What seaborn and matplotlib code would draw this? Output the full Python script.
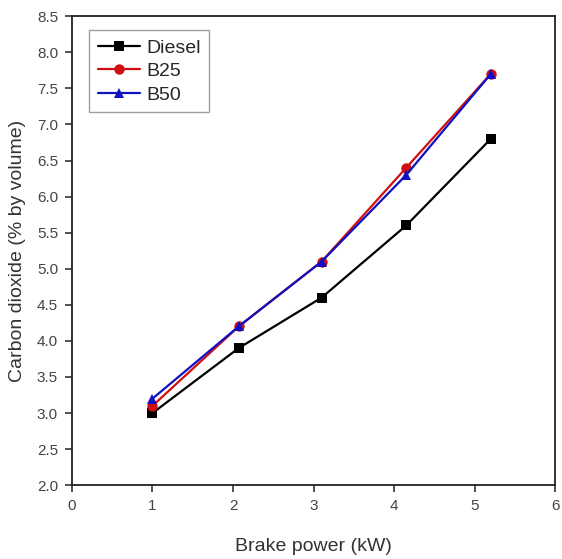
import matplotlib
matplotlib.use("Agg")
import matplotlib.pyplot as plt
import seaborn as sns
import pandas as pd

brake_power = [1.0, 2.07, 3.1, 4.15, 5.2]
diesel = [3.0, 3.9, 4.6, 5.6, 6.8]
b25 = [3.1, 4.2, 5.1, 6.4, 7.7]
b50 = [3.2, 4.2, 5.1, 6.3, 7.7]
series_names = ["Diesel", "B25", "B50"]
x_ticks = [0, 1, 2, 3, 4, 5, 6]
y_ticks = [2.0, 2.5, 3.0, 3.5, 4.0, 4.5, 5.0, 5.5, 6.0, 6.5, 7.0, 7.5, 8.0, 8.5]

df = pd.DataFrame({
    "x": brake_power * 3,
    "y": diesel + b25 + b50,
    "fuel": [n for n in series_names for _ in brake_power],
})

sns.set_style("ticks")
plt.rcParams["font.family"] = ["Liberation Sans", "DejaVu Sans"]

fig = plt.figure(figsize=(5.62, 5.59), dpi=100)
ax = fig.add_axes([0.128, 0.132, 0.860, 0.839])

palette = {"Diesel": "black", "B25": "#d01010", "B50": "#1010c0"}
markers = {"Diesel": "s", "B25": "o", "B50": "^"}
sns.lineplot(data=df, x="x", y="y", hue="fuel", style="fuel",
             palette=palette, markers=markers, dashes=False,
             markersize=7.5, linewidth=1.6, markeredgewidth=0, ax=ax)

ax.set_xlim(0, 6)
ax.set_ylim(2.0, 8.5)
ax.set_xticks(x_ticks)
ax.set_xticklabels([str(t) for t in x_ticks])
ax.set_yticks(y_ticks)
ax.set_yticklabels([f"{t:.1f}" for t in y_ticks])
ax.tick_params(direction="out", length=5, width=1.2, labelsize=11, colors="#333333",
               pad=5)
ax.tick_params(axis="both", labelcolor="#444444")
for s in ax.spines.values():
    s.set_linewidth(1.3)
    s.set_color("#222222")

ax.set_xlabel("Brake power (kW)", fontsize=14, color="#333333", labelpad=18)
ax.set_ylabel("Carbon dioxide (% by volume)", fontsize=14, color="#333333", labelpad=8)

leg = ax.legend(loc="upper left", bbox_to_anchor=(0.035, 0.97), fontsize=14,
                frameon=True, fancybox=False, edgecolor="#888888",
                handlelength=2.2, handletextpad=0.3, borderpad=0.45,
                labelspacing=0.3, borderaxespad=0)
leg.get_frame().set_linewidth(1.0)
leg.set_title(None)

fig.savefig("out.png", dpi=100)
